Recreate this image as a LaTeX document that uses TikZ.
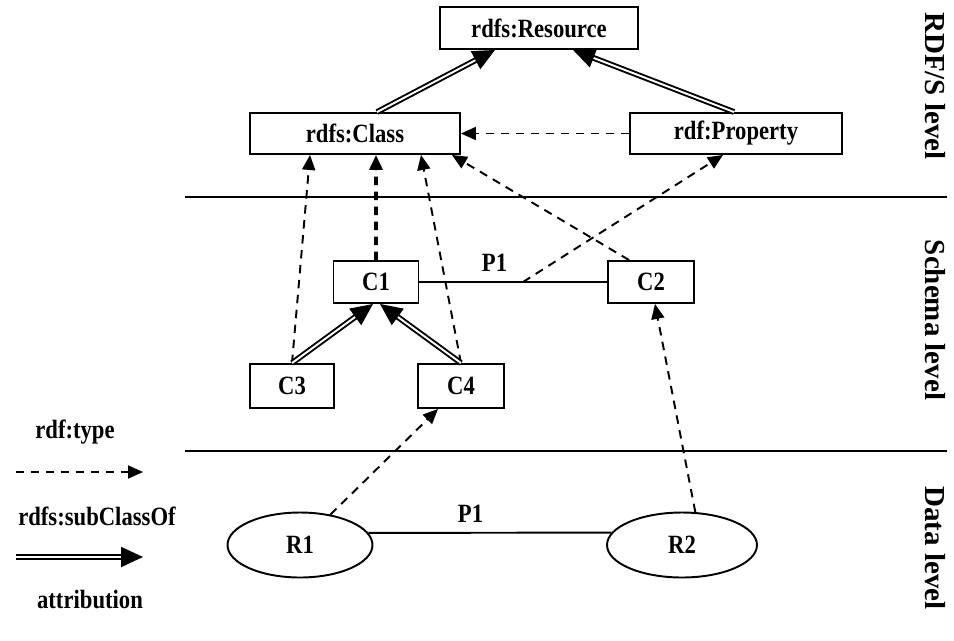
\documentclass[tikz,border=0pt]{standalone}
\usepackage{fontspec}
\setmainfont{Liberation Serif}[FakeStretch=0.86]
\newfontfamily\levelfont{Liberation Serif}
\usetikzlibrary{arrows.meta,shapes.geometric}

\begin{document}
\begin{tikzpicture}[x=0.02cm, y=-0.02cm,
	every node/.style={font=\fontsize{15}{17}\selectfont\bfseries},
	box/.style={draw, line width=1.1pt, inner sep=0pt, minimum height=0.84cm},
	res/.style={draw, ellipse, line width=1.1pt, inner sep=0pt, minimum width=2.9cm, minimum height=1.3cm},
	level/.style={font=\levelfont\fontsize{16.5}{18}\selectfont\bfseries, rotate=-90},
	type/.style={line width=1.1pt, dash pattern=on 0.17cm off 0.13cm, -{Triangle[length=0.3cm,width=0.26cm]}},
	subclass/.style={line width=1.1pt, double, double distance=1.1pt, -{Triangle[length=0.44cm,width=0.4cm]}},
	attr/.style={line width=1.1pt}]
\useasboundingbox (0,0) rectangle (954,640);

% levels
\draw[attr] (185,197) -- (947,197);
\draw[attr] (185,451) -- (947,451);

\node[level] (rdfslevel) at (935,86) {RDF/S level};
\node[level] (schemalevel) at (935,320) {Schema level};
\node[level] (datalevel) at (935,548) {Data level};

% RDF/S level
\node[box, minimum width=3.96cm] (resource) at (539,28) {rdfs:Resource};
\node[box, minimum width=4.2cm, minimum height=0.82cm] (class) at (355,133.5) {rdfs:Class};
\node[box, minimum width=4.24cm, minimum height=0.82cm] (property) at (736,133.5) {rdf:Property};

% schema level
\node[box, minimum width=1.7cm] (c1) at (376,282) {C1};
\node[box, minimum width=1.72cm] (c2) at (651,282) {C2};
\node[box, minimum width=1.68cm, minimum height=0.88cm] (c3) at (292,386) {C3};
\node[box, minimum width=1.72cm, minimum height=0.88cm] (c4) at (461,386) {C4};

% data level
\node[res] (r1) at (300,545) {R1};
\node[res, minimum width=3cm] (r2) at (682,545) {R2};

\draw[subclass] ([xshift=0.44cm]class.north) -- ([xshift=-0.88cm]resource.south);
\draw[subclass] ([xshift=-0.04cm]property.north) -- ([xshift=0.68cm]resource.south);
\draw[type] (property.west) -- (class.east);

\draw[type] (c3.north) -- ([xshift=-0.9cm]class.south);
\draw[type, line width=2pt] (c1.north) -- ([xshift=0.42cm]class.south);
\draw[type] (c4.north) -- ([xshift=1.32cm]class.south);
\draw[type] ([xshift=0.44cm]c2.north west) -- ([xshift=-0.18cm]class.south east);

\draw[subclass] (c3.north) -- ([xshift=-0.06cm]c1.south);
\draw[subclass] (c4.north) -- ([xshift=0.08cm]c1.south);

\draw[attr] (c1.east) -- node[pos=0.4, above=2pt] (p1schema) {P1} (c2.west);
\coordinate (p1mid) at (523,282);
\draw[type] (p1mid) -- ([xshift=-0.26cm]property.south);

\draw[type] (r1.45) -- ([xshift=-0.46cm]c4.south);
\draw[type] (r2.68) -- ([xshift=0.08cm]c2.south);
\draw[attr] (r1.10) -- node[pos=0.42, above=2pt] (p1data) {P1} (r2.170);

% legend
\node (typelabel) at (75,432) {rdf:type};
\coordinate (typefrom) at (16,472);
\coordinate (typeto) at (143,472);
\draw[type] (typefrom) -- (typeto);

\node (subclasslabel) at (97,516) {rdfs:subClassOf};
\coordinate (subfrom) at (16,557);
\coordinate (subto) at (143,557);
\draw[subclass] (subfrom) -- (subto);

\node (attrlabel) at (90,600) {attribution};

\end{tikzpicture}
\end{document}
